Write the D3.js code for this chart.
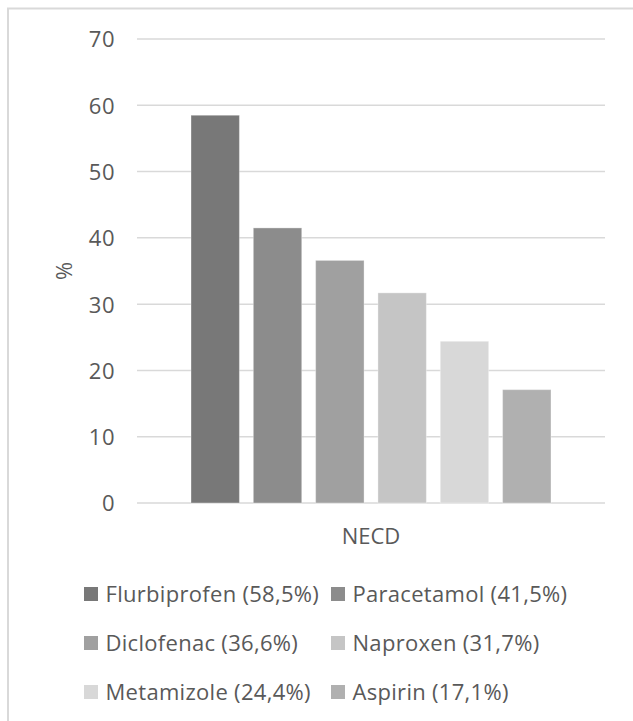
<!DOCTYPE html>
<html><head><meta charset="utf-8">
<script src="https://cdn.jsdelivr.net/npm/d3@7"></script>
<style>body{margin:0;background:#fff}svg{display:block}</style>
</head><body>
<script>
const categories = ["Flurbiprofen (58,5%)","Paracetamol (41,5%)","Diclofenac (36,6%)","Naproxen (31,7%)","Metamizole (24,4%)","Aspirin (17,1%)"];
const values = [58.5, 41.5, 36.6, 31.7, 24.4, 17.1];
const colors = ["#787878","#8c8c8c","#a0a0a0","#c5c5c5","#d8d8d8","#b0b0b0"];
const yTicks = [0,10,20,30,40,50,60,70];
const groupLabel = "NECD";
const yLabel = "%";

const W = 633, H = 721;
const svg = d3.select("body").append("svg").attr("width", W).attr("height", H);
const font = "'Open Sans', sans-serif";
const fs = 22;
const textColor = "#595959";

svg.append("rect").attr("x",8).attr("y",8.5).attr("width",W).attr("height",H)
  .attr("fill","none").attr("stroke","#d9d9d9").attr("stroke-width",2);

const x0 = 137, x1 = 605, y0 = 503, yTop = 39;
const y = d3.scaleLinear().domain([0,70]).range([y0, yTop]);
const band = d3.scaleBand().domain([groupLabel]).range([x0,x1]).paddingInner(0).paddingOuter(0.15);
const x = d3.scaleBand().domain(categories).range([band(groupLabel), band(groupLabel)+band.bandwidth()]).paddingInner(0.223).paddingOuter(0);

svg.append("g").selectAll("line").data(yTicks).join("line")
  .attr("x1",x0).attr("x2",x1).attr("y1",d=>y(d)).attr("y2",d=>y(d))
  .attr("stroke","#d9d9d9").attr("stroke-width",1.5);

const yAxis = d3.axisLeft(y).tickValues(yTicks).tickSize(0).tickPadding(0);
const ga = svg.append("g").attr("transform",`translate(${115},0)`).call(yAxis);
ga.select(".domain").remove();
ga.selectAll("text").attr("font-family",font).attr("font-size",fs).attr("fill",textColor).attr("dy","0.36em").attr("letter-spacing","0.5px");

svg.append("g").selectAll("rect").data(values).join("rect")
  .attr("x",(d,i)=>x(categories[i])).attr("width",x.bandwidth())
  .attr("y",d=>y(d)).attr("height",d=>y0-y(d))
  .attr("fill",(d,i)=>colors[i]).attr("stroke","rgba(255,255,255,0.35)").attr("stroke-width",1);

svg.append("text").attr("transform",`translate(72,271) rotate(-90)`)
  .attr("text-anchor","middle").attr("font-family",font).attr("font-size",fs).attr("fill",textColor).text(yLabel);

svg.append("text").attr("x",band(groupLabel)+band.bandwidth()/2).attr("y",544)
  .attr("text-anchor","middle").attr("font-family",font).attr("font-size",fs).attr("fill",textColor).text(groupLabel);

const legX = [84, 331], legY = [594, 643, 692];
const lg = svg.append("g").selectAll("g").data(categories).join("g")
  .attr("transform",(d,i)=>`translate(${legX[i%2]},${legY[Math.floor(i/2)]})`);
lg.append("rect").attr("x",0).attr("y",-7).attr("width",14).attr("height",14).attr("fill",(d,i)=>colors[i]);
lg.append("text").attr("x",21.5).attr("y",7.5).attr("font-family",font).attr("font-size",fs).attr("letter-spacing","0.3px").attr("fill",textColor).text(d=>d);
</script>
</body></html>
